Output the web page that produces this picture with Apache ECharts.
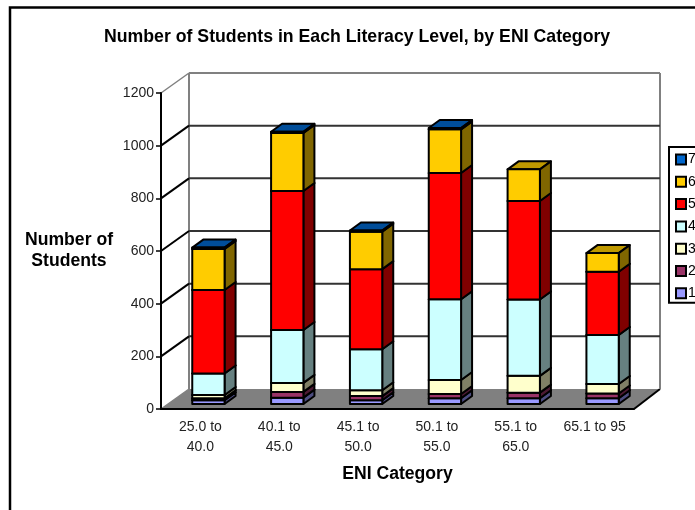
<!DOCTYPE html>
<html>
<head>
<meta charset="utf-8">
<style>html,body{margin:0;padding:0;background:#fff}#chart{width:695px;height:510px}</style>
<script src="https://cdn.jsdelivr.net/npm/echarts@6/dist/echarts.min.js"></script>
</head>
<body>
<div id="chart"></div>
<script>
// ENI categories along the floor of the chart
const categories = ['25.0 to\n40.0', '40.1 to\n45.0', '45.1 to\n50.0', '50.1 to\n55.0', '55.1 to\n65.0', '65.1 to 95'];
const yTicks = [0, 200, 400, 600, 800, 1000, 1200];

// Students per literacy level, one value per ENI category
const level1 = [14, 24, 14, 22, 22, 22];
const level2 = [8, 22, 16, 16, 21, 18];
const level3 = [12, 34, 22, 53, 64, 36];
const level4 = [82, 201, 156, 307, 290, 186];
const level5 = [317, 528, 304, 479, 374, 240];
const level6 = [156, 220, 142, 166, 120, 71];
const level7 = [5, 5, 5, 5, 0, 0];

const levels = [level1, level2, level3, level4, level5, level6, level7];
const levelNames = ['1', '2', '3', '4', '5', '6', '7'];
const levelColors = ['#9999ff', '#993366', '#ffffcc', '#ccffff', '#ff0000', '#ffcc00', '#0066cc'];

// Oblique projection of the box and of each column inside it
const WALL_LEFT_DX = 28, WALL_RIGHT_DX = 26, WALL_DY = -20;
const BAR_DX = 8, BAR_DY = -5;
const SIDE_DX = 11, SIDE_DY = -8;
const BAR_RATIO = 0.41;

function shade(hex, k) {
  const n = parseInt(hex.slice(1), 16);
  const c = [(n >> 16) & 255, (n >> 8) & 255, n & 255].map(v => Math.round(v * k));
  return `rgb(${c[0]},${c[1]},${c[2]})`;
}

function poly(points, fill, stroke, width) {
  return {
    type: 'polygon',
    shape: { points },
    style: { fill: fill, stroke: stroke, lineWidth: width, lineJoin: 'round' }
  };
}

function line(x1, y1, x2, y2, stroke, width) {
  return {
    type: 'line',
    shape: { x1, y1, x2, y2 },
    style: { stroke, lineWidth: width, fill: null }
  };
}

// Floor and the walls' grid lines, one data item per y tick
function renderWall(params, api) {
  const v = api.value(1);
  const box = params.coordSys;
  const y = api.coord([0, v])[1];
  const x0 = box.x, x1 = box.x + box.width;
  const bl = x0 + WALL_LEFT_DX, br = x1 + WALL_RIGHT_DX;
  const children = [];
  if (v === yTicks[0]) {
    children.push(poly([[x0, y], [bl, y + WALL_DY], [br, y + WALL_DY], [x1, y]], '#808080', null, 0));
    children.push(line(x0, y, bl, y + WALL_DY, '#808080', 1.5));
    children.push(line(x1, y, br, y + WALL_DY, '#000', 2));
    const topY = box.y;
    children.push(line(bl, topY + WALL_DY, bl, y + WALL_DY, '#808080', 2));
    children.push(line(br, topY + WALL_DY, br, y + WALL_DY, '#808080', 2));
  } else if (v === yTicks[yTicks.length - 1]) {
    children.push(line(x0, y, bl, y + WALL_DY, '#808080', 1.5));
    children.push(line(bl, y + WALL_DY, br, y + WALL_DY, '#808080', 2));
  } else {
    children.push(line(x0, y, bl, y + WALL_DY, '#000', 2));
    children.push(line(bl, y + WALL_DY, br, y + WALL_DY, '#333', 2));
  }
  return { type: 'group', children };
}

// One segment of a stacked column: front, side and top faces
function renderSegment(params, api) {
  const start = api.value(1), end = api.value(2);
  if (end <= start) return null;
  const color = levelColors[params.seriesIndex - 1];
  const c0 = api.coord([api.value(0), start]);
  const c1 = api.coord([api.value(0), end]);
  const w = api.size([1, 0])[0] * BAR_RATIO;
  const l = c0[0] - w / 2 + BAR_DX, r = l + w;
  const b = c0[1] + BAR_DY, t = c1[1] + BAR_DY;
  return {
    type: 'group',
    children: [
      poly([[l, t], [r, t], [r + SIDE_DX, t + SIDE_DY], [l + SIDE_DX, t + SIDE_DY]], shade(color, 0.75), '#000', 2),
      poly([[r, b], [r + SIDE_DX, b + SIDE_DY], [r + SIDE_DX, t + SIDE_DY], [r, t]], shade(color, 0.5), '#000', 2),
      poly([[l, b], [r, b], [r, t], [l, t]], color, '#000', 2)
    ]
  };
}

const totals = categories.map(() => 0);
const segmentSeries = levels.map((values, k) => ({
  type: 'custom',
  name: levelNames[k],
  renderItem: renderSegment,
  itemStyle: { color: levelColors[k], borderColor: '#000', borderWidth: 2 },
  encode: { x: 0, y: [1, 2] },
  silent: true,
  clip: false,
  z: 3,
  data: values.map((v, i) => {
    const start = totals[i];
    totals[i] += v;
    return [i, start, totals[i]];
  })
}));

const FONT = '"Liberation Sans", Arial, sans-serif';
const chart = echarts.init(document.getElementById('chart'), null, { renderer: 'canvas' });
chart.setOption({
  animation: false,
  backgroundColor: '#fff',
  title: {
    text: 'Number of Students in Each Literacy Level, by ENI Category',
    left: 99,
    top: 23,
    textStyle: { fontFamily: FONT, fontSize: 17.7, fontWeight: 'bold', color: '#000' }
  },
  grid: { left: 161, right: 61, top: 93, bottom: 101 },
  legend: {
    orient: 'vertical',
    left: 669,
    top: 147,
    padding: [4, 30, 1, 6],
    itemWidth: 10,
    itemHeight: 10,
    itemGap: 5.3,
    backgroundColor: '#fff',
    borderColor: '#000',
    borderWidth: 2,
    icon: 'rect',
    selectedMode: false,
    data: levelNames.slice().reverse(),
    textStyle: { fontFamily: FONT, fontSize: 14, color: '#000', padding: [0, 0, 3, -3], lineHeight: 14 }
  },
  xAxis: {
    type: 'category',
    data: categories,
    z: 5,
    name: 'ENI Category',
    nameLocation: 'middle',
    nameGap: 56,
    nameTextStyle: { fontFamily: FONT, fontSize: 17.6, fontWeight: 'bold', color: '#000' },
    axisLine: { lineStyle: { color: '#000', width: 2 } },
    axisTick: { length: 4, lineStyle: { color: '#000', width: 1.5 } },
    axisLabel: { fontFamily: FONT, fontSize: 14, color: '#222', lineHeight: 20, margin: 8, interval: 0 },
    splitLine: { show: false }
  },
  yAxis: {
    type: 'value',
    min: 0,
    max: 1200,
    interval: 200,
    z: 5,
    name: 'Number of\nStudents',
    nameLocation: 'middle',
    nameRotate: 0,
    nameGap: 92,
    nameTextStyle: { fontFamily: FONT, fontSize: 17.6, fontWeight: 'bold', color: '#000', align: 'center', lineHeight: 21 },
    axisLine: { show: true, lineStyle: { color: '#000', width: 2 } },
    axisTick: { show: true, length: 5, lineStyle: { color: '#000', width: 1.5 } },
    axisLabel: { fontFamily: FONT, fontSize: 14, color: '#222', margin: 7, formatter: v => String(v) },
    splitLine: { show: false }
  },
  series: [{
    type: 'custom',
    name: 'walls',
    renderItem: renderWall,
    encode: { y: 1 },
    silent: true,
    clip: false,
    z: 1,
    data: yTicks.map(v => [0, v])
  }].concat(segmentSeries),
  graphic: [{
    // Chart-area frame, open at the right and bottom page edges
    type: 'polyline',
    silent: true,
    shape: { points: [[10, 510], [10, 7.5], [695, 7.5]] },
    style: { stroke: '#000', lineWidth: 2.5, fill: null }
  }]
});
</script>
</body>
</html>
